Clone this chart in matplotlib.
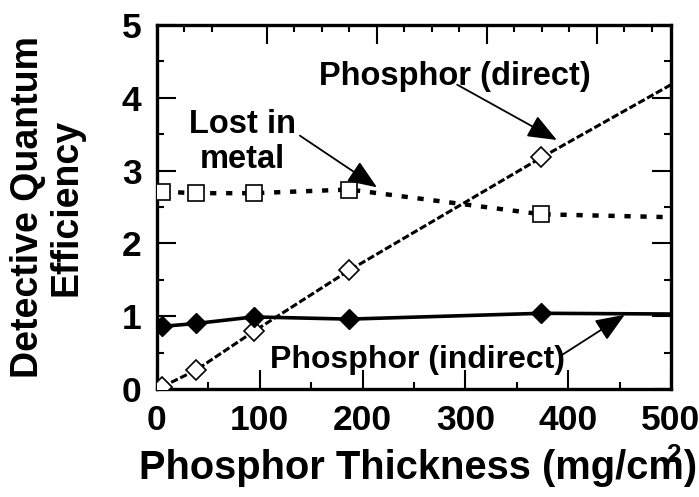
import matplotlib
matplotlib.use("Agg")
import matplotlib.pyplot as plt
import numpy as np
from matplotlib.ticker import MultipleLocator, FixedLocator, NullFormatter

plt.rcParams['font.family'] = ['Liberation Sans', 'DejaVu Sans']
plt.rcParams['font.weight'] = 'bold'

# Data
thickness = [5, 38, 94, 187, 374, 500]
dqe_indirect = [0.86, 0.90, 0.99, 0.96, 1.04, 1.03]
dqe_direct = [0.03, 0.26, 0.79, 1.63, 3.18, 4.18]
dqe_lost = [2.71, 2.69, 2.69, 2.74, 2.40, 2.36]

xticks = [0, 100, 200, 300, 400, 500]
yticks = [0, 1, 2, 3, 4, 5]

fig = plt.figure(figsize=(6.99, 4.97), dpi=100)
ax = fig.add_axes([157/699, 1-389/497, (671-157)/699, (389-25)/497])

mk = [0, 1, 2, 3, 4]
ax.plot(thickness, dqe_lost, color='black', lw=3.2, linestyle=(0, (1.4, 2.2)),
        dash_capstyle='butt', marker='s', ms=12, mfc='white', mec='black', mew=1.2,
        markevery=mk, zorder=3)
ax.plot(thickness, dqe_direct, color='black', lw=2.2, linestyle=(0, (2.4, 0.9)),
        marker='D', ms=10, mfc='white', mec='black', mew=1.2, markevery=mk, zorder=4)
ax.plot(thickness, dqe_indirect, color='black', lw=2.6, linestyle='-',
        marker='D', ms=10.5, mfc='black', mec='black', markevery=mk, zorder=5)

ax.set_xlim(0, 500)
ax.set_ylim(0, 5)
ax.set_xticks(xticks)
ax.set_yticks(yticks)
ax.xaxis.set_minor_locator(MultipleLocator(50))
ax.yaxis.set_minor_locator(MultipleLocator(0.5))
ax.tick_params(which='both', direction='in', width=1.5, labelsize=25.5, pad=11)
ax.tick_params(which='major', length=14)
ax.tick_params(which='minor', length=5)
ax.tick_params(axis='y', right=True, which='both')
for lab in ax.get_xticklabels() + ax.get_yticklabels():
    lab.set_fontweight('bold')
for s in ax.spines.values():
    s.set_linewidth(2.4)

# top axis ticks (misaligned scale as in original)
axt = ax.twiny()
axt.set_xlim(0, 500)
axt.xaxis.set_major_locator(FixedLocator([0, 107, 214, 321, 428]))
axt.xaxis.set_minor_locator(FixedLocator([26.75, 53.5, 133.75, 160.5, 187.25, 240.75, 267.5, 294.25,
                                           347.75, 374.5, 401.25, 454.75, 481.5]))
axt.xaxis.set_major_formatter(NullFormatter())
axt.tick_params(which='both', direction='in', width=1.5)
axt.tick_params(which='major', length=14)
axt.tick_params(which='minor', length=5)
for s in axt.spines.values():
    s.set_visible(False)

arrow_kw = dict(arrowstyle='-|>,head_length=1.0,head_width=0.4', mutation_scale=18,
                lw=1.3, color='black', fc='black', shrinkA=0, shrinkB=0)
ax.annotate('', xy=(389, 3.42), xytext=(292, 4.18), arrowprops=arrow_kw, zorder=6)
ax.annotate('', xy=(214, 2.77), xytext=(139, 3.48), arrowprops=arrow_kw, zorder=6)
ax.annotate('', xy=(455, 1.02), xytext=(392, 0.45), arrowprops=arrow_kw, zorder=6)

ax.text(290, 4.29, 'Phosphor (direct)', fontsize=23.5, fontweight='bold', ha='center', va='center')
ax.text(83, 3.39, 'Lost in\nmetal', fontsize=23.5, fontweight='bold', ha='center', va='center',
        linespacing=1.15)
ax.text(253, 0.40, 'Phosphor (indirect)', fontsize=23, fontweight='bold', ha='center', va='center')

fig.text(418/699, 1-468/497, 'Phosphor Thickness (mg/cm)', fontsize=28.7, fontweight='bold',
         ha='center', va='center')
fig.text(673/699, 1-455/497, '2', fontsize=19, fontweight='bold', ha='center', va='center')
fig.text(47/699, 1-207/497, 'Detective Quantum\nEfficiency', fontsize=27, fontweight='bold',
         rotation=90, ha='center', va='center', multialignment='center', linespacing=1.1)

fig.savefig('out.png', dpi=100)
